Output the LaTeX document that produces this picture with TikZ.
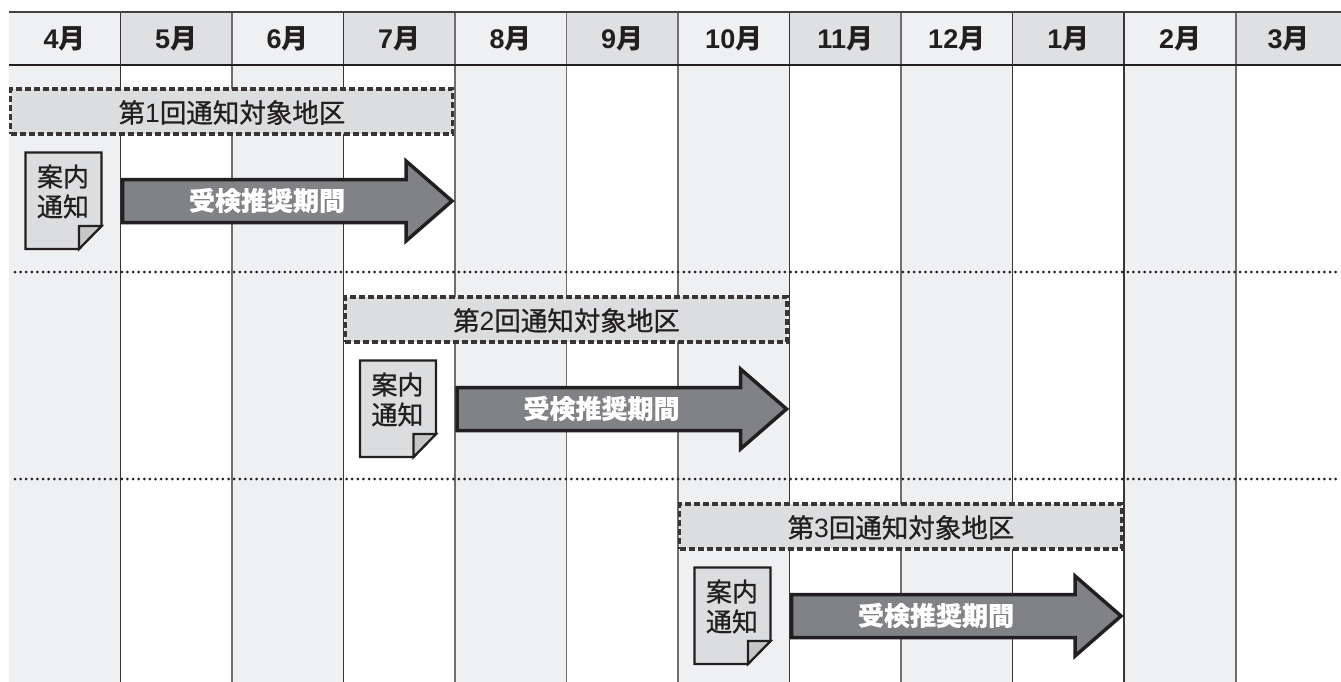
\documentclass[tikz,border=0pt]{standalone}
\usepackage{fontspec}
\setmainfont{Noto Sans CJK JP}
\newfontfamily\digitfont{Liberation Sans}
\definecolor{lightcol}{HTML}{EFF0F2}
\definecolor{darkcol}{HTML}{DFE0E2}
\definecolor{boxgray}{HTML}{DCDDDE}
\definecolor{foldgray}{HTML}{C4C6C8}
\definecolor{arrowgray}{HTML}{808285}
\definecolor{inkblack}{HTML}{231F20}
\begin{document}
\begin{tikzpicture}[x=1pt, y=-1pt,
        month_node/.style={font=\fontsize{27}{27}\selectfont\bfseries, color=inkblack},
        area_box/.style={draw=inkblack!90, fill=boxgray, line width=3.5pt, dash pattern=on 6pt off 3pt},
        area_label/.style={font=\fontsize{26.5}{26.5}\selectfont\addfontfeature{FakeBold=0.8}, color=inkblack},
        doc_shape/.style={draw=inkblack, fill=boxgray, line width=2.2pt, line join=miter},
        doc_label/.style={font=\fontsize{26}{30}\selectfont\addfontfeature{FakeBold=0.8}, color=inkblack, align=center},
        period_arrow/.style={draw=inkblack, fill=arrowgray, line width=3.5pt, line join=miter},
        period_label/.style={font=\fontsize{26}{26}\selectfont\bfseries\addfontfeature{FakeBold=0.5}, color=white},
        round_sep/.style={draw=inkblack, line width=3pt, line cap=round, dash pattern=on 0pt off 5.62pt}
    ]
    \useasboundingbox (0,0) rectangle (1341,682);

    % Body and header columns
    \foreach \col/\xa/\xb/\mon/\fillb/\fillh in {
        a/9/120.5/4/lightcol/lightcol, b/120.5/232/5/white/darkcol,
        c/232/343.5/6/lightcol/lightcol, d/343.5/455/7/white/darkcol,
        e/455/566.5/8/lightcol/lightcol, f/566.5/678/9/white/darkcol,
        g/678/789.5/10/lightcol/lightcol, h/789.5/901/11/white/darkcol,
        i/901/1012.5/12/lightcol/lightcol, j/1012.5/1124/1/white/darkcol,
        k/1124/1236/2/lightcol/lightcol, l/1236/1341/3/white/darkcol} {
        \fill[\fillb] (\xa,65) rectangle (\xb,682);
        \fill[\fillh] (\xa,12) rectangle (\xb,65);
        \node[month_node] (m\col) at ({(\xa+\xb)/2},39) {{\digitfont\bfseries\mon}月};
    }

    % Column lines
    \foreach \xa in {120.5,343.5,789.5,1012.5,1124}
        \draw[inkblack!90, line width=1.2pt] (\xa,12) -- (\xa,682);
    \foreach \xa in {232,455,566.5,678,901,1236}
        \draw[inkblack!65, line width=1.5pt] (\xa,12) -- (\xa,682);

    % Header rules
    \draw[inkblack!85, line width=2pt] (9,12) -- (1341,12);
    \draw[inkblack, line width=2pt] (9,65) -- (1341,65);

    % Separators
    \draw[round_sep] (15,272) -- (1341,272);
    \draw[round_sep] (15,479) -- (1341,479);

    % Rounds
    \foreach \rnd/\dx/\dy in {1/0/0, 2/334.5/208, 3/669/415} {
        \begin{scope}[shift={(\dx,\dy)}]
            % Target area
            \node[area_box, minimum width=442pt, minimum height=45pt, inner sep=0pt, anchor=center] (box\rnd) at (231.5,111.5) {};
            \node[area_label] (area\rnd) at (232,112.5) {第{\digitfont\rnd}回通知対象地区};

            % Notice
            \draw[doc_shape] (25.5,152.5) -- (101.5,152.5) -- (101.5,226) -- (79,249) -- (25.5,249) -- cycle;
            \draw[doc_shape, fill=foldgray] (101.5,226) -- (79,226) -- (79,249) -- cycle;
            \node[doc_label] (doc\rnd) at (63,191.5) {案内\\通知};

            % Period
            \draw[period_arrow] (122.5,179.5) -- (406,179.5) -- (406,161) -- (452,201) -- (406,241) -- (406,222.5) -- (122.5,222.5) -- cycle;
            \node[period_label] (period\rnd) at (267,200.5) {受検推奨期間};
        \end{scope}
    }
\end{tikzpicture}
\end{document}
